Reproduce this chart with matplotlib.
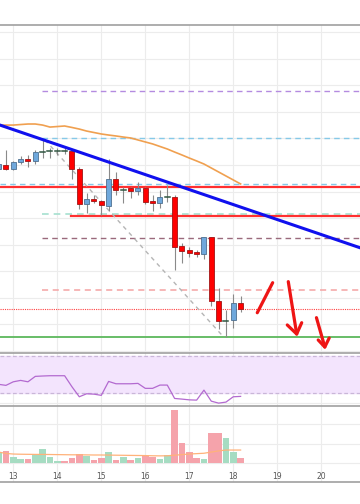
import matplotlib.pyplot as plt
import numpy as np

### DATA: 4h candles (day of month as float) ###
slots = list(range(-2, 32))
times = [13 + k / 6 for k in slots]

opens  = [176.9, 180.0, 176.9, 182.2, 184.5, 183.0, 189.4, 190.5, 190.5, 190.5, 190.5, 176.9,
          150.6, 154.4, 152.9, 149.1, 169.4, 161.1, 162.6, 160.4, 162.6, 152.9, 151.4, 155.9,
          155.9, 119.0, 116.0, 114.5, 113.0, 125.8, 77.6, 62.6, 63.3, 76.1]
highs  = [181.5, 191.2, 183.0, 186.7, 187.5, 191.2, 199.5, 192.7, 192.7, 192.7, 191.2, 178.4,
          158.9, 157.4, 153.6, 184.5, 174.7, 163.4, 163.4, 167.2, 163.4, 157.4, 161.1, 164.9,
          157.4, 121.3, 118.3, 116.0, 126.0, 125.8, 87.4, 70.8, 82.9, 81.4]
lows   = [176.2, 176.2, 176.2, 180.7, 178.4, 180.7, 185.2, 185.2, 187.5, 188.2, 169.4, 146.8,
          143.8, 151.4, 142.3, 145.3, 157.4, 151.4, 155.1, 157.4, 150.6, 145.3, 147.6, 152.1,
          101.0, 106.2, 110.7, 110.7, 109.2, 73.9, 56.6, 50.5, 57.3, 69.3]
closes = [180.7, 176.9, 182.2, 184.5, 183.0, 189.7, 189.7, 190.6, 190.6, 190.4, 176.9, 150.6,
          154.4, 152.9, 149.9, 169.4, 161.1, 161.5, 160.4, 162.6, 152.1, 151.4, 155.9, 156.1,
          118.3, 115.2, 113.7, 113.0, 125.8, 77.6, 62.6, 62.8, 76.1, 71.6]

price_ma = [210.0, 210.0, 210.0, 210.4, 210.8, 210.8, 210.0, 208.5, 208.9, 209.3, 208.2, 207.0,
            205.5, 204.4, 203.3, 202.5, 201.8, 201.0, 200.3, 198.8, 197.3, 195.8, 193.9, 192.0,
            189.7, 187.5, 185.2, 183.0, 180.7, 177.7, 174.7, 171.7, 168.7, 165.7]

rsi = [39.7, 38.6, 42.4, 43.9, 42.4, 48.2, 48.6, 48.9, 48.9, 48.9, 37.1, 26.4, 29.6, 29.2, 27.9,
       42.8, 40.3, 40.3, 40.3, 40.7, 35.4, 35.4, 38.9, 38.9, 24.6, 23.9, 23.1, 22.8, 33.5, 21.7,
       19.6, 20.7, 26.4, 26.8]

volume = [500, 615, 325, 190, 220, 410, 720, 325, 105, 105, 255, 460, 360, 155, 255, 550, 155,
          325, 155, 255, 360, 325, 205, 395, 2700, 1025, 580, 255, 190, 1525, 1525, 1265, 580, 255]
volume_ma = [560, 490, 460, 450, 445, 440, 440, 435, 430, 425, 420, 420, 415, 410, 410, 405, 400,
             395, 390, 385, 380, 370, 365, 370, 400, 430, 460, 480, 500, 560, 620, 665, 665, 665]

day_ticks = [13, 14, 15, 16, 17, 18, 19, 20]

### levels drawn on the chart: (price, start day, colour, style, width) ###
levels = [
    (235.6, 13.65, '#b48be0', (0, (4, 3)), 1.0),
    (200.3, 13.65, '#86c9e8', (0, (4, 3)), 1.0),
    (165.7, None,  '#86c9e8', (0, (4, 3)), 1.0),
    (163.6, None,  '#ff3030', '-', 1.6),
    (143.1, 13.65, '#a6e0cf', (0, (4, 3)), 1.2),
    (141.8, 14.31, '#ff3030', '-', 1.6),
    (125.3, 13.65, '#9a6a7c', (0, (4, 3)), 1.0),
    (85.9,  13.65, '#f4a3a3', (0, (4, 3)), 1.1),
    (71.6,  None,  '#ff4040', (0, (1, 1)), 0.8),
    (50.5,  None,  '#5cb85c', '-', 1.3),
]
trend_days = [12.698, 20.88]
trend_prices = [210.0, 117.7]
fib_days = [13.72, 17.74]
fib_prices = [198.8, 52.0]

# hand drawn red marks
slash = ([18.545, 18.895], [68.8, 91.4])
arrows = [
    ([19.25, 19.441], [92.2, 52.8], [19.227, 19.441, 19.555], [59.6, 52.8, 61.3]),
    ([19.89, 20.08], [65.1, 43.0], [19.93, 20.08, 20.18], [48.3, 43.0, 49.8]),
]

x_lim = (12.698, 20.88)
width = 0.114

fig = plt.figure(figsize=(3.6, 5.04), dpi=100)
ax = fig.add_axes([0, 0.2996, 1, 0.6508])
ax_rsi = fig.add_axes([0, 0.1944, 1, 0.1052])
ax_vol = fig.add_axes([0, 0.0437, 1, 0.1507])

for a in (ax, ax_rsi, ax_vol):
    a.set_xlim(*x_lim)
    a.set_xticks(day_ticks)
    a.grid(True, color='#ececec', lw=0.8, zorder=0)
    a.set_axisbelow(True)
    a.tick_params(left=False, labelleft=False, bottom=False, labelbottom=False)
    for s in ('left', 'right'):
        a.spines[s].set_visible(False)
    for s in ('top', 'bottom'):
        a.spines[s].set_color('#a0a0a0')
        a.spines[s].set_linewidth(1.2)
ax.spines['bottom'].set_visible(False)
ax_rsi.spines['bottom'].set_visible(False)

### MAIN PRICE PANEL ###
ax.set_ylim(38.5, 285.3)
ax.set_yticks(np.arange(40, 281, 20))

for p, start, col, ls, lw in levels:
    if start is None:
        ax.axhline(p, color=col, ls=ls, lw=lw, zorder=2)
    else:
        ax.plot([start, x_lim[1]], [p, p], color=col, ls=ls, lw=lw, zorder=2)

ax.plot(times, price_ma, color='#f0a050', lw=1.2, zorder=3)
ax.plot(fib_days, fib_prices, color='#b5b5b5', lw=1.0, ls=(0, (3, 3)), zorder=3)

for t, o, h, l, c in zip(times, opens, highs, lows, closes):
    ax.vlines(t, l, h, color='#8a8a8a', lw=0.8, zorder=4)
    if abs(c - o) < 0.5:
        ax.plot([t - width / 2, t + width / 2], [o, o], color='#2f5540', lw=1.1, zorder=5)
    elif c > o:
        ax.bar(t, c - o, width, bottom=o, color='#6fa8dc', edgecolor='#4f7090', lw=0.6, zorder=5)
    else:
        ax.bar(t, o - c, width, bottom=c, color='#ff0000', edgecolor='#a01515', lw=0.6, zorder=5)

ax.plot(trend_days, trend_prices, color='#1010ee', lw=2.2, zorder=6)

ax.plot(slash[0], slash[1], color='#ee1515', lw=2.3, solid_capstyle='round', zorder=7)
for sx, sy, hx, hy in arrows:
    ax.plot(sx, sy, color='#ee1515', lw=2.3, solid_capstyle='round', zorder=7)
    ax.plot(hx, hy, color='#ee1515', lw=2.3, solid_capstyle='round', solid_joinstyle='round', zorder=7)

### RSI PANEL ###
ax_rsi.set_ylim(16.5, 73.2)
ax_rsi.set_yticks([20, 40, 60])
ax_rsi.axhspan(30, 70, color='#f3e4fd', zorder=1)
ax_rsi.axhline(70, color='#c9b6d8', ls=(0, (3, 2)), lw=0.9, zorder=2)
ax_rsi.axhline(30, color='#c9b6d8', ls=(0, (3, 2)), lw=0.9, zorder=2)
ax_rsi.plot(times, rsi, color='#b36ad0', lw=0.9, zorder=3)

### VOLUME PANEL ###
ax_vol.set_ylim(-974, 2923)
ax_vol.set_yticks([0, 1000, 2000])
vol_cols = ['#a6dcc2' if c >= o else '#f5a3ab' for o, c in zip(opens, closes)]
ax_vol.bar(times, volume, width=0.152, color=vol_cols, zorder=2)
ax_vol.plot(times, volume_ma, color='#ffb27a', lw=0.9, zorder=3)
ax_vol.tick_params(labelbottom=True, pad=-11, labelsize=5.5, labelcolor='#555555')

fig.savefig('out.png', dpi=100)
